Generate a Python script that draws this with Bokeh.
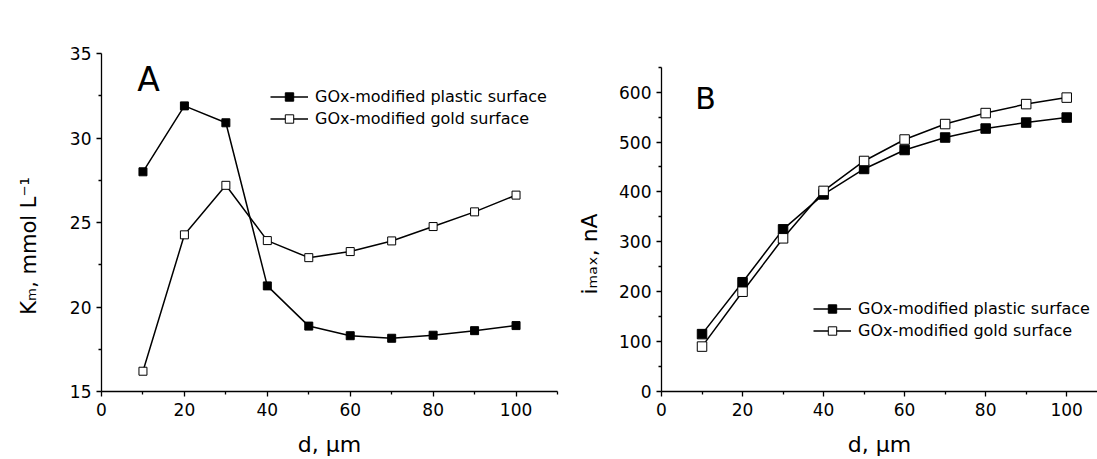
from bokeh.plotting import figure
from bokeh.models import Range1d, FixedTicker, Label, Legend, LegendItem
from bokeh.layouts import row
from bokeh.embed import file_html
from bokeh.resources import INLINE

# ---------------- data ----------------
d_um = [10, 20, 30, 40, 50, 60, 70, 80, 90, 100]
km_plastic = [28.0, 31.9, 30.9, 21.25, 18.87, 18.3, 18.15, 18.33, 18.6, 18.9]
km_gold = [16.2, 24.27, 27.2, 23.93, 22.92, 23.28, 23.91, 24.76, 25.63, 26.62]
imax_plastic = [115, 219, 325, 395, 446, 484, 509, 527, 539, 549]
imax_gold = [90, 200, 307, 402, 462, 505, 536, 558, 576, 589]

series_names = ["GOx-modified plastic surface", "GOx-modified gold surface"]
x_major = [0, 20, 40, 60, 80, 100]
x_minor = [10, 30, 50, 70, 90, 110]
km_major = [15, 20, 25, 30, 35]
km_minor = [17.5, 22.5, 27.5, 32.5]
imax_major = [0, 100, 200, 300, 400, 500, 600]
imax_minor = [50, 150, 250, 350, 450, 550, 650]
x_label = "d, \u03bcm"
km_label = "K\u2098, mmol L\u207b\u00b9"
imax_label = "i\u2098\u2090\u2093, nA"
NBSP = "\u00a0"

FONT = "DejaVu Sans"
INK = "#000000"
H = 459
TOP, BOTTOM = 53, 68


def make_fig(width, left, right, xr, yr, ybounds, xt, xmt, yt, ymt):
    p = figure(width=width, height=H, x_range=Range1d(*xr), y_range=Range1d(*yr),
               output_backend="svg", toolbar_location=None,
               min_border_left=left, min_border_top=TOP,
               min_border_bottom=BOTTOM, min_border_right=right)
    p.grid.visible = False
    p.outline_line_color = None
    p.background_fill_color = "white"
    p.border_fill_color = "white"
    p.xaxis.ticker = FixedTicker(ticks=xt, minor_ticks=xmt)
    p.yaxis.ticker = FixedTicker(ticks=yt, minor_ticks=ymt)
    p.yaxis.bounds = ybounds
    for ax in (p.xaxis[0], p.yaxis[0]):
        ax.axis_line_color = INK
        ax.axis_line_width = 1.3
        ax.major_tick_line_color = INK
        ax.minor_tick_line_color = INK
        ax.major_tick_line_width = 1.3
        ax.minor_tick_line_width = 1.3
        ax.major_tick_in = 0
        ax.major_tick_out = 5
        ax.minor_tick_in = 0
        ax.minor_tick_out = 3
        ax.major_label_text_font = FONT
        ax.major_label_text_font_size = "17px"
        ax.major_label_text_color = INK
        ax.axis_label_text_font = FONT
        ax.axis_label_text_font_style = "normal"
        ax.axis_label_text_color = INK
    p.xaxis.major_label_standoff = 6
    p.yaxis.major_label_standoff = 5
    p.xaxis.axis_label = x_label
    p.xaxis.axis_label_text_font_size = "22px"
    p.xaxis.axis_label_standoff = 13
    return p


def draw_series(p, xs, ys_fill, ys_open, size, loc):
    l1 = p.line(xs, ys_fill, line_color=INK, line_width=1.5)
    l2 = p.line(xs, ys_open, line_color=INK, line_width=1.5)
    s1 = p.scatter(xs, ys_fill, marker="square", size=size, fill_color=INK, line_color=INK, line_width=1)
    s2 = p.scatter(xs, ys_open, marker="square", size=size, fill_color="white", line_color=INK, line_width=1)
    leg = Legend(items=[LegendItem(label=series_names[0], renderers=[l1, s1]),
                        LegendItem(label=series_names[1], renderers=[l2, s2])],
                 location=loc, padding=0, spacing=1, margin=0,
                 glyph_width=38, glyph_height=21, label_height=21, label_standoff=7,
                 label_text_font=FONT, label_text_font_size="16px", label_text_color=INK,
                 border_line_alpha=0, background_fill_alpha=0)
    p.add_layout(leg)


# ---------------- panel A ----------------
pA = make_fig(560, 101, 3, (0, 110), (15, 35), (15, 35), x_major, x_minor, km_major, km_minor)
draw_series(pA, d_um, km_plastic, km_gold, 8, (169, 262))
pA.yaxis.axis_label = km_label + NBSP * 7
pA.yaxis.axis_label_text_font_size = "21px"
pA.yaxis.axis_label_standoff = 26
pA.add_layout(Label(x=8.6, y=33.45, text="A", text_font=FONT, text_font_size="33px",
                    text_color=INK, text_align="left", text_baseline="alphabetic"))

# ---------------- panel B ----------------
pB = make_fig(537, 101, 0, (0, 107.6), (0, 677.4), (0, 650), x_major, x_minor, imax_major, imax_minor)
draw_series(pB, d_um, imax_plastic, imax_gold, 9.5, (152, 50))
pB.yaxis.axis_label = imax_label + NBSP * 9
pB.yaxis.axis_label_text_font_size = "22px"
pB.yaxis.axis_label_standoff = 14
pB.add_layout(Label(x=8.3, y=586.6, text="B", text_font=FONT, text_font_size="30px",
                    text_color=INK, text_align="left", text_baseline="alphabetic"))

layout = row(pA, pB)
open("out.html", "w").write(file_html(layout, INLINE))
